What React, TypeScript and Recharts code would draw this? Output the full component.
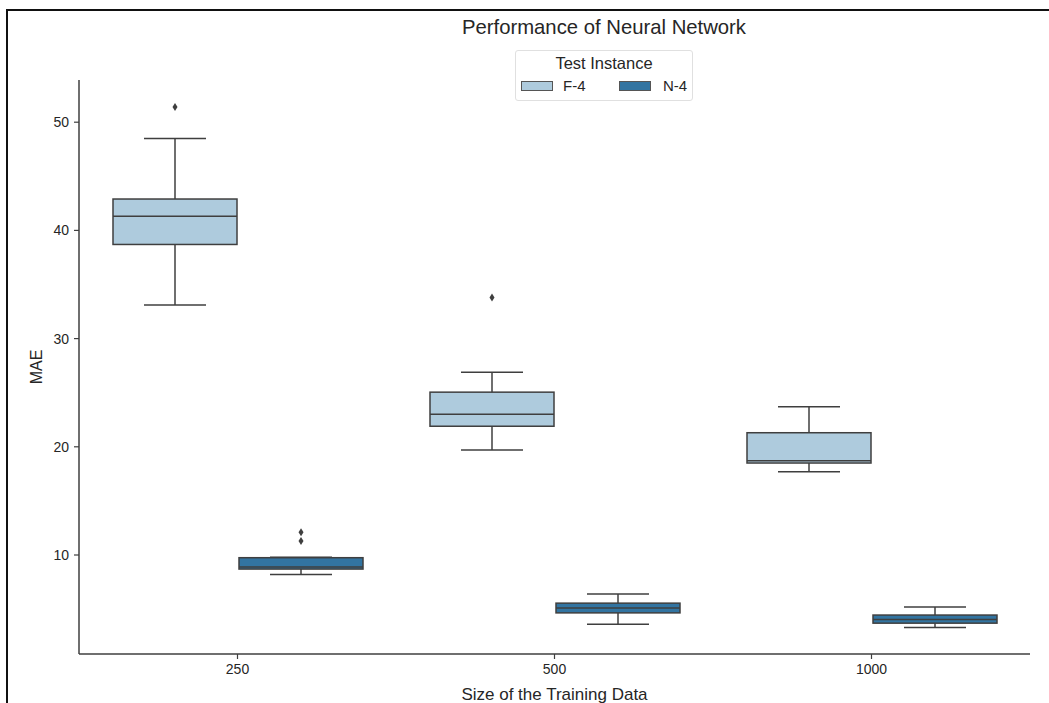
import React from 'react';
import { ComposedChart, Bar, XAxis, YAxis } from 'recharts';

// box statistics (MAE)
const categories = ['250', '500', '1000'];

const f4Min = [33.1, 19.7, 17.7];
const f4Q1 = [38.7, 21.9, 18.5];
const f4Median = [41.3, 23.0, 18.7];
const f4Q3 = [42.9, 25.05, 21.3];
const f4Max = [48.5, 26.9, 23.7];
const f4Outliers = [[51.4], [33.8], []];

const n4Min = [8.2, 3.6, 3.3];
const n4Q1 = [8.7, 4.65, 3.7];
const n4Median = [8.9, 5.1, 4.05];
const n4Q3 = [9.75, 5.55, 4.45];
const n4Max = [9.8, 6.4, 5.2];
const n4Outliers = [[11.3, 12.1], [], []];

const yTicks = [10, 20, 30, 40, 50];

const F4_COLOR = '#aecbdd';
const N4_COLOR = '#3274a1';
const LINE = '#3f3f3f';
const TEXT = '#262626';
const FONT = '"Liberation Sans", Arial, sans-serif';

type Stats = { min: number; q1: number; median: number; q3: number; max: number; outliers: number[] };

const makeStats = (mn: number[], q1: number[], md: number[], q3: number[], mx: number[], out: number[][], i: number): Stats => ({
  min: mn[i], q1: q1[i], median: md[i], q3: q3[i], max: mx[i], outliers: out[i],
});

const data = categories.map((cat, i) => {
  const f4 = makeStats(f4Min, f4Q1, f4Median, f4Q3, f4Max, f4Outliers, i);
  const n4 = makeStats(n4Min, n4Q1, n4Median, n4Q3, n4Max, n4Outliers, i);
  return {
    size: cat,
    f4Stats: f4,
    n4Stats: n4,
    // full vertical extent of each box incl. outliers, so the bar geometry gives us the scale
    f4: [Math.min(f4.min, ...f4.outliers), Math.max(f4.max, ...f4.outliers)],
    n4: [Math.min(n4.min, ...n4.outliers), Math.max(n4.max, ...n4.outliers)],
  };
});

const makeBoxShape = (key: 'f4' | 'n4', fill: string) => (props: any) => {
  const { x, y, width, height, payload } = props;
  const s: Stats = payload[key + 'Stats'];
  const [lo, hi] = payload[key];
  const toPx = (v: number) => (hi === lo ? y : y + (height * (hi - v)) / (hi - lo));
  const cx = x + width / 2;
  const capW = width / 4;
  return (
    <g>
      <line x1={cx} x2={cx} y1={toPx(s.max)} y2={toPx(s.q3)} stroke={LINE} strokeWidth={1.5} />
      <line x1={cx} x2={cx} y1={toPx(s.q1)} y2={toPx(s.min)} stroke={LINE} strokeWidth={1.5} />
      <line x1={cx - capW} x2={cx + capW} y1={toPx(s.max)} y2={toPx(s.max)} stroke={LINE} strokeWidth={1.5} />
      <line x1={cx - capW} x2={cx + capW} y1={toPx(s.min)} y2={toPx(s.min)} stroke={LINE} strokeWidth={1.5} />
      <rect x={x} y={toPx(s.q3)} width={width} height={toPx(s.q1) - toPx(s.q3)} fill={fill} stroke={LINE} strokeWidth={1.5} />
      <line x1={x} x2={x + width} y1={toPx(s.median)} y2={toPx(s.median)} stroke={LINE} strokeWidth={1.5} />
      {s.outliers.map((o, j) => {
        const py = toPx(o);
        return (
          <path key={j} d={`M${cx},${py - 4} L${cx + 2.5},${py} L${cx},${py + 4} L${cx - 2.5},${py} Z`} fill={LINE} />
        );
      })}
    </g>
  );
};

const XTick = ({ x, y, payload }: any) => (
  <text x={x} y={y} dy="0.75em" textAnchor="middle" fill={TEXT} fontSize={14} fontFamily={FONT}>
    {payload.value}
  </text>
);

const YTick = ({ x, y, payload }: any) => (
  <text x={x} y={y} dy="0.36em" textAnchor="end" fill={TEXT} fontSize={14} fontFamily={FONT}>
    {payload.value}
  </text>
);

const LegendBox = () => (
  <div
    style={{
      position: 'absolute', left: 515, top: 50, width: 178, height: 51, boxSizing: 'border-box',
      border: '1px solid #e0e0e0', borderRadius: 3, background: '#fff', fontFamily: FONT, color: TEXT,
    }}
  >
    <div style={{ position: 'absolute', top: 2, width: '100%', textAlign: 'center', fontSize: 16.5, lineHeight: '20px' }}>Test Instance</div>
    <div style={{ position: 'absolute', left: 5, top: 30, width: 32, height: 10, boxSizing: 'border-box', background: F4_COLOR, border: '1px solid #555' }} />
    <div style={{ position: 'absolute', left: 47, top: 26, fontSize: 15, lineHeight: '18px' }}>F-4</div>
    <div style={{ position: 'absolute', left: 103, top: 30, width: 32, height: 10, boxSizing: 'border-box', background: N4_COLOR, border: '1px solid #555' }} />
    <div style={{ position: 'absolute', left: 147, top: 26, fontSize: 15, lineHeight: '18px' }}>N-4</div>
  </div>
);

export default function App() {
  return (
    <div style={{ position: 'absolute', left: 0, top: 0, width: 1049, height: 703, background: '#fff', fontFamily: FONT }}>
      <ComposedChart
        width={1049}
        height={703}
        data={data}
        margin={{ top: 80, right: 19, bottom: 0, left: 0 }}
        barSize={124}
        barGap={2}
      >
        <XAxis
          dataKey="size"
          height={49}
          tickSize={5}
          tickMargin={4}
          tick={<XTick />}
          axisLine={{ stroke: LINE, strokeWidth: 1.5 }}
          tickLine={{ stroke: LINE, strokeWidth: 1.2 }}
          label={{ value: 'Size of the Training Data', position: 'insideBottom', offset: 3, fill: TEXT, fontSize: 17, fontFamily: FONT }}
        />
        <YAxis
          type="number"
          domain={[0.85, 53.9]}
          ticks={yTicks}
          width={79}
          tickSize={5}
          tickMargin={5}
          tick={<YTick />}
          axisLine={{ stroke: LINE, strokeWidth: 1.5 }}
          tickLine={{ stroke: LINE, strokeWidth: 1.2 }}
          label={{
            value: 'MAE', angle: -90, position: 'insideLeft', offset: 36,
            fill: TEXT, fontSize: 16, fontFamily: FONT, style: { textAnchor: 'middle' },
          }}
        />
        <Bar dataKey="f4" name="F-4" fill={F4_COLOR} isAnimationActive={false} shape={makeBoxShape('f4', F4_COLOR)} />
        <Bar dataKey="n4" name="N-4" fill={N4_COLOR} isAnimationActive={false} shape={makeBoxShape('n4', N4_COLOR)} />
      </ComposedChart>
      <div style={{ position: 'absolute', left: 6, top: 9, right: 0, bottom: 0, borderTop: '2px solid #111', borderLeft: '2px solid #111', pointerEvents: 'none' }} />
      <div style={{ position: 'absolute', left: 0, width: 1208, top: 15, textAlign: 'center', fontSize: 20.3, lineHeight: '24px', color: TEXT }}>
        Performance of Neural Network
      </div>
      <LegendBox />
    </div>
  );
}
